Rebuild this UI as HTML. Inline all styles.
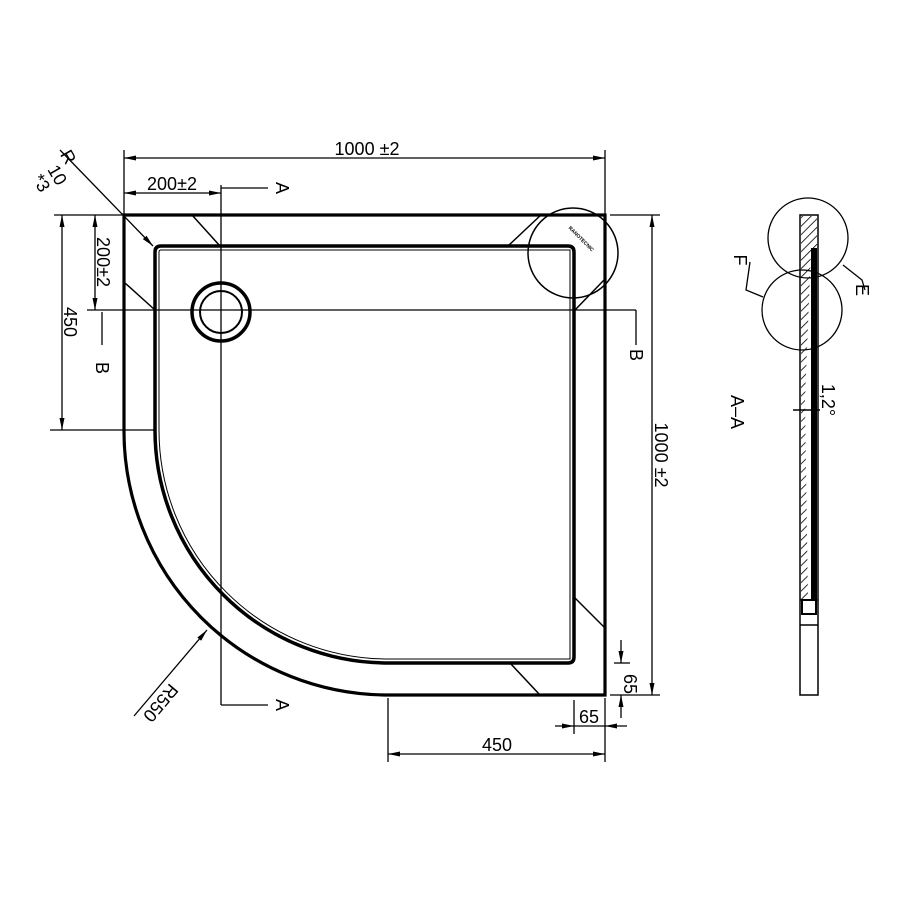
<!DOCTYPE html>
<html><head><style>body{margin:0;background:#fff}svg{display:block}text{font-family:"Liberation Sans",sans-serif;fill:#000}</style></head><body>
<svg width="900" height="900" viewBox="0 0 900 900" xmlns="http://www.w3.org/2000/svg">
<defs>
<marker id="ar" markerWidth="12" markerHeight="8" refX="12" refY="4" orient="auto-start-reverse" markerUnits="userSpaceOnUse"><path d="M0,1.5 L12,4 L0,6.5z" fill="#000"/></marker>
<pattern id="h" width="6" height="6" patternUnits="userSpaceOnUse" patternTransform="rotate(45)"><line x1="0" y1="0" x2="0" y2="6" stroke="#000" stroke-width="1.6"/></pattern>
</defs>
<g fill="none" stroke="#000">
<path d="M124,430 L124,215 L605,215 L605,695 L388,695 A264,264 0 0 1 124,430" stroke-width="3.2"/>
<path d="M155,430 L155,252 Q155,246 161,246 L568,246 Q574,246 574,252 L574,657 Q574,663 568,663 L388,663 A233,233 0 0 1 155,430" stroke-width="3.5"/>
<path d="M159,430 L159,252 Q159,250 161,250 L570,250 L570,659 L388,659 A229,229 0 0 1 159,430" stroke-width="1"/>
<circle cx="221" cy="312" r="29" stroke-width="3.5"/>
<circle cx="221" cy="312" r="21" stroke-width="2"/>
<g stroke-width="1.5">
<line x1="192" y1="215" x2="220" y2="246"/>
<line x1="125" y1="283" x2="155" y2="310"/>
<line x1="542" y1="214" x2="508" y2="246"/>
<line x1="604" y1="280" x2="575" y2="310"/>
<line x1="605" y1="628" x2="575" y2="598"/>
<line x1="510" y1="663" x2="540" y2="695"/>
</g>
<circle cx="573" cy="253" r="45" stroke-width="1.5"/>
<g stroke-width="1.3">
<line x1="124" y1="150" x2="124" y2="215"/>
<line x1="605" y1="150" x2="605" y2="215"/>
<line x1="124" y1="158" x2="605" y2="158" marker-start="url(#ar)" marker-end="url(#ar)"/>
<line x1="124" y1="193" x2="221" y2="193" marker-start="url(#ar)" marker-end="url(#ar)"/>
<line x1="221" y1="185" x2="221" y2="705"/>
<line x1="221" y1="188" x2="268" y2="188"/>
<line x1="221" y1="705" x2="268" y2="705"/>
<line x1="54" y1="215" x2="124" y2="215"/>
<line x1="50" y1="430" x2="155" y2="430"/>
<line x1="62" y1="215" x2="62" y2="430" marker-start="url(#ar)" marker-end="url(#ar)"/>
<line x1="95" y1="215" x2="95" y2="310" marker-start="url(#ar)" marker-end="url(#ar)"/>
<line x1="87" y1="310" x2="636" y2="310"/>
<line x1="636" y1="310" x2="636" y2="345"/>
<line x1="102" y1="312" x2="102" y2="345"/>
<line x1="610" y1="215" x2="660" y2="215"/>
<line x1="610" y1="695" x2="660" y2="695"/>
<line x1="652" y1="215" x2="652" y2="695" marker-start="url(#ar)" marker-end="url(#ar)"/>
<line x1="614" y1="663" x2="630" y2="663"/>
<line x1="621" y1="640" x2="621" y2="663" marker-end="url(#ar)"/>
<line x1="621" y1="718" x2="621" y2="695" marker-end="url(#ar)"/>
<line x1="574" y1="700" x2="574" y2="734"/>
<line x1="605" y1="698" x2="605" y2="762"/>
<line x1="555" y1="726" x2="574" y2="726" marker-end="url(#ar)"/>
<line x1="627" y1="726" x2="605" y2="726" marker-end="url(#ar)"/>
<line x1="574" y1="726" x2="605" y2="726"/>
<line x1="388" y1="698" x2="388" y2="762"/>
<line x1="388" y1="754" x2="605" y2="754" marker-start="url(#ar)" marker-end="url(#ar)"/>
<line x1="134" y1="716" x2="207" y2="630" marker-end="url(#ar)"/>
<line x1="60" y1="150" x2="153" y2="246" marker-end="url(#ar)"/>
</g>
<rect x="800" y="215" width="18" height="480" stroke-width="1.5"/>
<path d="M801,216 L817,216 L817,248 L811,250 L805,400 L808,600 L801,600z" fill="url(#h)" stroke="none"/>
<rect x="811" y="248" width="6" height="352" fill="#000" stroke="none"/>
<line x1="800" y1="600" x2="818" y2="600" stroke-width="1.5"/>
<rect x="802" y="600" width="14" height="14" stroke-width="2"/>
<line x1="800" y1="625" x2="818" y2="625" stroke-width="1.5"/>
<circle cx="808" cy="238" r="40" stroke-width="1.3"/>
<circle cx="802" cy="310" r="40" stroke-width="1.3"/>
<polyline points="843,265 862,280 865,290" stroke-width="1.3"/>
<polyline points="763,297 746,290 750,262" stroke-width="1.3"/>
<line x1="793" y1="410" x2="820" y2="410" stroke-width="1.5"/>
</g>
<g font-size="18">
<text x="367" y="155" text-anchor="middle">1000 ±2</text>
<text x="172" y="190" text-anchor="middle">200±2</text>
<text x="497" y="751" text-anchor="middle">450</text>
<text x="589" y="723" text-anchor="middle">65</text>
<text transform="translate(276,188) rotate(90)" text-anchor="middle">A</text>
<text transform="translate(276,705) rotate(90)" text-anchor="middle">A</text>
<text transform="translate(64,322) rotate(90)" text-anchor="middle">450</text>
<text transform="translate(97,262) rotate(90)" text-anchor="middle">200±2</text>
<text transform="translate(96,368) rotate(90)" text-anchor="middle">B</text>
<text transform="translate(630,355) rotate(90)" text-anchor="middle">B</text>
<text transform="translate(655,455) rotate(90)" text-anchor="middle">1000 ±2</text>
<text transform="translate(624,684) rotate(90)" text-anchor="middle">65</text>
<text transform="translate(156,699) rotate(130)" text-anchor="middle">R550</text>
<text transform="translate(63,160) rotate(60)" text-anchor="middle">R</text>
<text transform="translate(52,178) rotate(60)" text-anchor="middle">10</text>
<text transform="translate(36,186) rotate(60)" text-anchor="middle">*3</text>
<text transform="translate(731,412) rotate(90)" text-anchor="middle">A–A</text>
<text transform="translate(822,400) rotate(90)" text-anchor="middle">1,2°</text>
<text transform="translate(856,290) rotate(90)" text-anchor="middle">E</text>
<text transform="translate(734,260) rotate(90)" text-anchor="middle">F</text>
</g>
<text transform="translate(580,240) rotate(45)" text-anchor="middle" font-size="5" font-weight="bold">RANOTECNIC</text>
</svg>
</body></html>
